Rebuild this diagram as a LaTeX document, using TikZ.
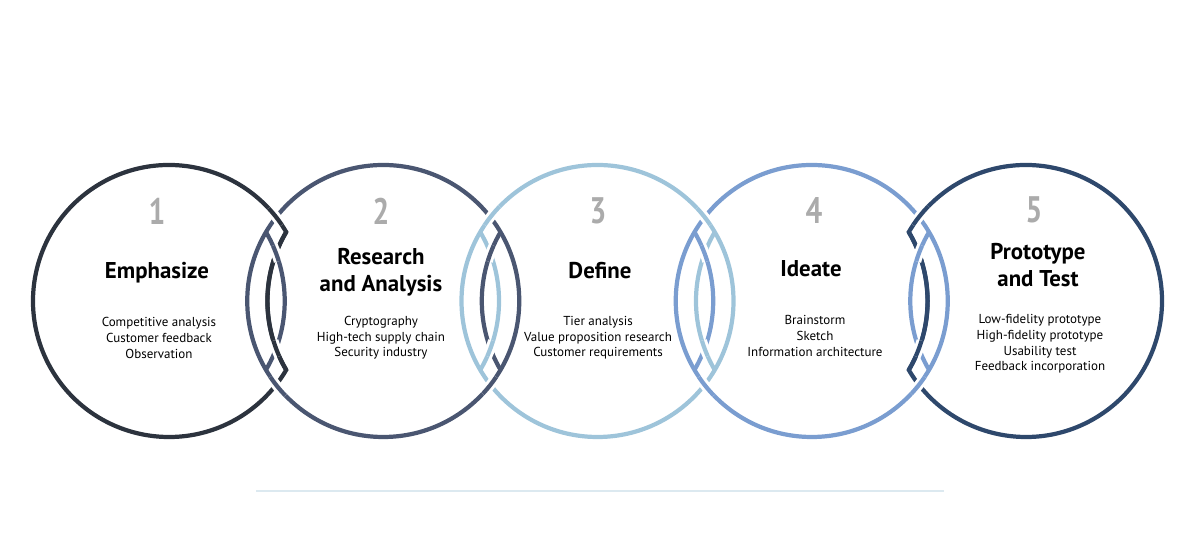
\documentclass[tikz,border=0pt]{standalone}
\usepackage{fontspec}
\setmainfont{PT Sans}
\definecolor{cOne}{HTML}{2C333E}
\definecolor{cTwo}{HTML}{4A5671}
\definecolor{cThree}{HTML}{9EC4DA}
\definecolor{cFour}{HTML}{7A9DD0}
\definecolor{cFive}{HTML}{2E486C}
\definecolor{numgray}{HTML}{ABABAB}
\definecolor{baseblue}{HTML}{DCE9F0}
\tikzset{ring/.style={draw=#1, line width=2.4pt},
  halo/.style={preaction={draw=white, line width=5.7pt}}}
\tikzstyle{stepnum} = [text=numgray, font=\bfseries\fontsize{21}{21}\selectfont]
\tikzstyle{phase} = [font=\bfseries\fontsize{13}{15.4}\selectfont, align=center]
\tikzstyle{items} = [font=\fontsize{7.4}{8.9}\selectfont, align=center]

% #1 middle of the overlap, #2 left ring, #3 right ring, #4 1 or -1 (which one goes over on top)
\newcommand{\ringlens}[4]{%
  \begin{scope}[shift={(#1,235)}, yscale=#4]
    \draw[ring=#2] (10.2,69) arc[start angle=149.5, end angle=210.5, radius=136];
    \draw[ring=#3] (-10.2,-69) arc[start angle=-30.5, end angle=30.5, radius=136];
    \draw[ring=#2, halo] (-7.54,92.75) arc[start angle=43, end angle=34, radius=136];
    \draw[ring=#3, halo] (-3.16,55.31) arc[start angle=24, end angle=17, radius=136];
    \draw[ring=#2, halo] (-2.66,-39.76) arc[start angle=197, end angle=204, radius=136];
    \draw[ring=#3, halo] (-5.75,-76.05) arc[start angle=214, end angle=224, radius=136];
  \end{scope}}

\begin{document}
\begin{tikzpicture}[x=0.02cm, y=0.02cm]
    \useasboundingbox (0,0) rectangle (1200,536);

    % rings
    \draw[ring=cOne] (169,235) ++(30.5:136) arc[start angle=30.5, end angle=329.5, radius=136]
        arc[start angle=210.5, end angle=149.5, radius=136] -- cycle;
    \draw[ring=cTwo] (383.25,235) circle (136);
    \draw[ring=cThree] (597.5,235) circle (136);
    \draw[ring=cFour] (811.75,235) circle (136);
    \draw[ring=cFive] (1026,235) ++(210.5:136) arc[start angle=210.5, end angle=509.5, radius=136]
        arc[start angle=30.5, end angle=-30.5, radius=136] -- cycle;

    % overlaps
    \ringlens{276.1}{cOne}{cTwo}{1}
    \ringlens{490.4}{cTwo}{cThree}{-1}
    \ringlens{704.6}{cThree}{cFour}{1}
    \ringlens{918.9}{cFour}{cFive}{-1}

    \node[stepnum] (NumOne) at (157, 325) {\scalebox{0.8}[1]{1}};
    \node[stepnum] (NumTwo) at (381, 325) {\scalebox{0.8}[1]{2}};
    \node[stepnum] (NumThree) at (598, 325) {\scalebox{0.8}[1]{3}};
    \node[stepnum] (NumFour) at (814, 325) {\scalebox{0.8}[1]{4}};
    \node[stepnum] (NumFive) at (1034, 326) {\scalebox{0.8}[1]{5}};

    \node[phase] (Emphasize) at (157, 263) {Emphasize};
    \node[phase] (Research) at (381, 264) {Research\\and Analysis};
    \node[phase] (Define) at (600, 265) {Define};
    \node[phase] (Ideate) at (811, 267) {Ideate};
    \node[phase] (Prototype) at (1038, 271) {Prototype\\and Test};

    \node[items] (EmphasizeItems) at (159, 198) {Competitive analysis\\Customer feedback\\Observation};
    \node[items] (ResearchItems) at (381, 198) {Cryptography\\High-tech supply chain\\Security industry};
    \node[items] (DefineItems) at (598, 198) {Tier analysis\\Value proposition research\\Customer requirements};
    \node[items] (IdeateItems) at (815, 200) {Brainstorm\\Sketch\\Information architecture};
    \node[items] (PrototypeItems) at (1040, 192) {Low-fidelity prototype\\High-fidelity prototype\\Usability test\\Feedback incorporation};

    \coordinate (BaseL) at (256, 45);
    \coordinate (BaseR) at (944, 45);
    \draw[baseblue, line width=1.1pt] (BaseL) -- (BaseR);
\end{tikzpicture}
\end{document}
